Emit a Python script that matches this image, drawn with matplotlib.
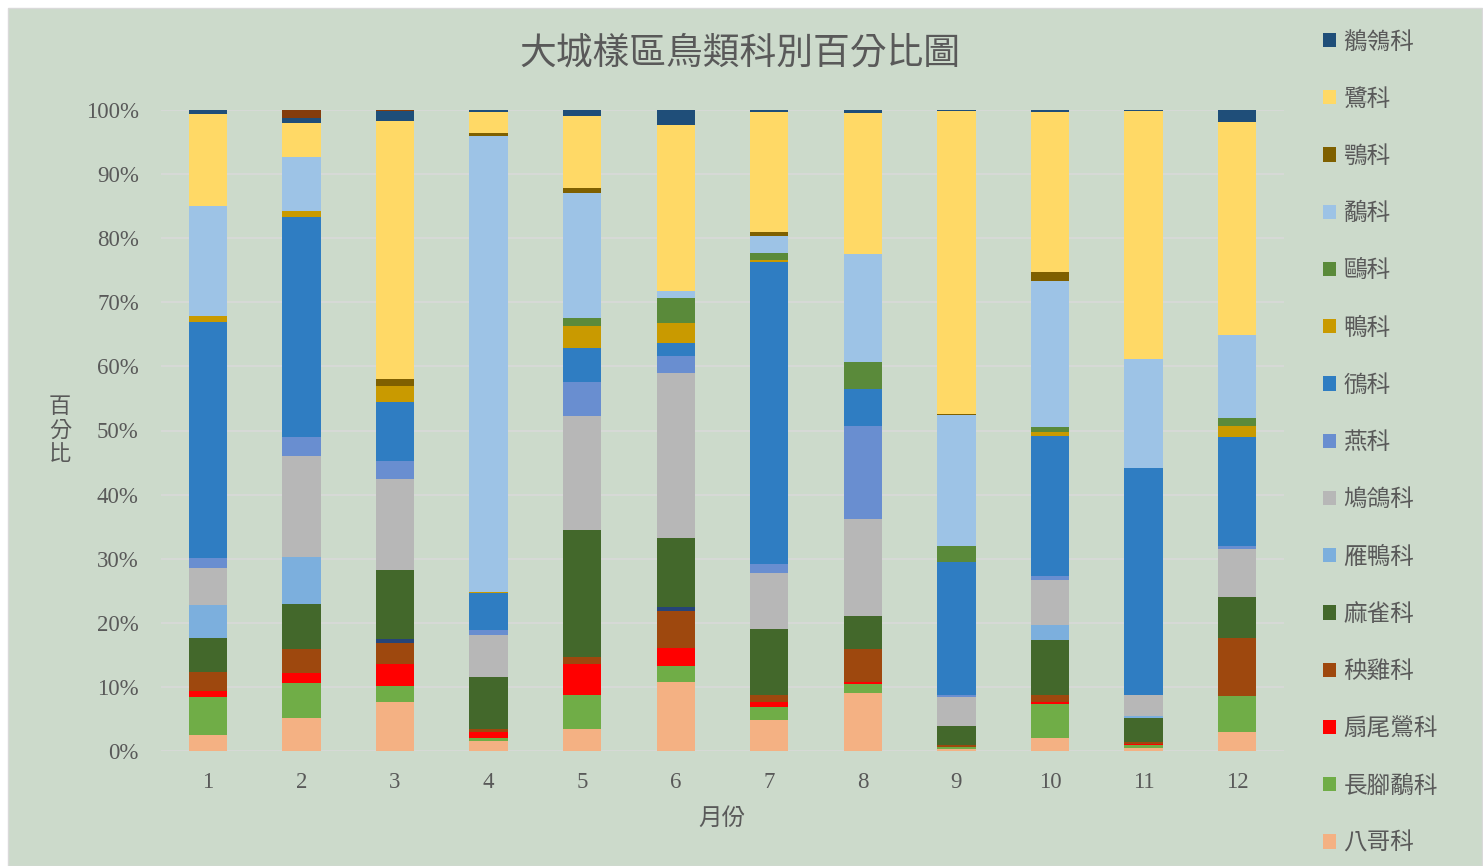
import matplotlib
matplotlib.use("Agg")
import matplotlib.pyplot as plt
import numpy as np
from matplotlib.patches import Rectangle, Patch

plt.rcParams['font.family'] = ['Noto Sans CJK TC', 'DejaVu Sans']

months = ['1', '2', '3', '4', '5', '6', '7', '8', '9', '10', '11', '12']

# percentage per family (bottom of stack first)
myna       = [2.5, 5.2, 7.7, 1.5, 3.4, 10.8, 4.9, 9.1, 0.3, 2.1, 0.4, 2.9]     # 八哥科
stilt      = [6.0, 5.4, 2.4, 0.5, 5.4, 2.5, 2.0, 1.4, 0.3, 5.2, 0.5, 5.7]      # 長腳鷸科
cisticola  = [0.9, 1.5, 3.4, 1.0, 4.7, 2.7, 0.8, 0.3, 0.1, 0.4, 0.2, 0.0]      # 扇尾鶯科
rail       = [2.9, 3.8, 3.3, 0.4, 1.2, 5.8, 1.0, 5.1, 0.2, 1.0, 0.3, 9.0]      # 秧雞科
other_a    = [0, 0, 0.7, 0, 0, 0.7, 0, 0, 0, 0, 0, 0]                          # (未列圖例)
sparrow    = [5.4, 7.1, 10.7, 8.1, 19.8, 10.8, 10.3, 5.2, 3.0, 8.6, 3.8, 6.5]  # 麻雀科
duck       = [5.1, 7.3, 0, 0, 0, 0, 0, 0, 0, 2.4, 0.3, 0]                      # 雁鴨科
pigeon     = [5.7, 15.7, 14.2, 6.6, 17.8, 25.7, 8.8, 15.1, 4.6, 7.0, 3.2, 7.4] # 鳩鴿科
swallow    = [1.6, 3.0, 2.9, 0.7, 5.3, 2.6, 1.4, 14.5, 0.3, 0.6, 0, 0.5]       # 燕科
plover     = [36.9, 34.3, 9.2, 5.8, 5.3, 2.1, 47.1, 5.7, 20.7, 21.8, 35.4, 17.0] # 鴴科
jacana     = [0.9, 0.9, 2.4, 0.2, 3.4, 3.1, 0.3, 0, 0, 0.7, 0.1, 1.7]          # 鴨科
gull       = [0, 0, 0, 0, 1.3, 3.8, 1.1, 4.3, 2.5, 0.7, 0, 1.3]                # 鷗科
sandpiper  = [17.1, 8.4, 0, 71.2, 19.4, 1.2, 2.6, 16.8, 20.4, 22.9, 17.0, 12.9] # 鷸科
osprey     = [0, 0, 1.1, 0.4, 0.9, 0, 0.7, 0, 0.1, 1.4, 0, 0]                  # 鶚科
heron      = [14.3, 5.3, 40.3, 3.3, 11.2, 25.9, 18.7, 22.0, 47.4, 24.9, 38.7, 33.3] # 鷺科
wagtail    = [0.7, 0.9, 1.5, 0.3, 0.9, 2.3, 0.3, 0.5, 0.1, 0.3, 0.1, 1.8]      # 鶺鴒科
other_b    = [0, 1.2, 0.2, 0, 0, 0, 0, 0, 0, 0, 0, 0]                          # (未列圖例)

series = [
    ('八哥科', myna, '#F4B183', True),
    ('長腳鷸科', stilt, '#70AD47', True),
    ('扇尾鶯科', cisticola, '#FF0000', True),
    ('秧雞科', rail, '#9E480E', True),
    ('其他A', other_a, '#264478', False),
    ('麻雀科', sparrow, '#43682B', True),
    ('雁鴨科', duck, '#7CAFDD', True),
    ('鳩鴿科', pigeon, '#B7B7B7', True),
    ('燕科', swallow, '#698ED0', True),
    ('鴴科', plover, '#2F7DC2', True),
    ('鴨科', jacana, '#C99A00', True),
    ('鷗科', gull, '#5A8A3A', True),
    ('鷸科', sandpiper, '#9DC3E6', True),
    ('鶚科', osprey, '#7F6000', True),
    ('鷺科', heron, '#FFD966', True),
    ('鶺鴒科', wagtail, '#1F4E79', True),
    ('其他B', other_b, '#843C0C', False),
]

W, H = 1483, 866
fig = plt.figure(figsize=(W / 100, H / 100), dpi=100)
fig.patch.set_facecolor('white')
bg = Rectangle((8 / W, 0), 1 - 8 / W - 1 / W, 1 - 8 / H, transform=fig.transFigure,
               facecolor='#CCDACB', edgecolor='#D9D9D9', linewidth=1, zorder=-10)
fig.patches.append(bg)

ax = fig.add_axes([161 / W, 1 - 751 / H, 1123 / W, 641 / H])
ax.set_zorder(5)
ax.set_facecolor('none')

data = np.array([s[1] for s in series], dtype=float)
totals = data.sum(axis=0)
frac = data / totals
x = np.arange(len(months))
bottom = np.zeros(len(months))
handles = []
for (name, _, color, show), vals in zip(series, frac):
    ax.bar(x, vals, width=0.41, bottom=bottom, color=color, linewidth=0, zorder=3)
    bottom += vals
    if show:
        handles.append(Patch(facecolor=color, label=name))

ax.set_xlim(-0.5, len(months) - 0.5)
ax.set_ylim(0, 1)
ax.set_yticks(np.arange(0, 1.01, 0.1))
ax.set_yticklabels([f'{int(round(v * 100))}%' for v in np.arange(0, 1.01, 0.1)],
                   fontfamily='Liberation Serif', fontsize=16.5, color='#595959')
ax.set_xticks(x)
ax.set_xticklabels(months, fontfamily='Liberation Serif', fontsize=16.5, color='#595959')
ax.tick_params(axis='y', length=0, pad=16)
ax.tick_params(axis='x', length=0, pad=15)
ax.grid(axis='y', color='#D9D9D9', linewidth=1.2, zorder=0)
ax.set_axisbelow(True)
for sp in ax.spines.values():
    sp.set_visible(False)

fig.text(740 / W, 1 - 53 / H, '大城樣區鳥類科別百分比圖', ha='center', va='center',
         fontsize=26.5, color='#595959')
fig.text(60 / W, 1 - 430 / H, '百\n分\n比', ha='center', va='center', fontsize=16,
         color='#595959', linespacing=1.05)
fig.text(722 / W, 1 - 818 / H, '月份', ha='center', va='center', fontsize=17, color='#595959')

leg = fig.legend(handles=handles[::-1], loc='upper left', bbox_to_anchor=(1314 / W, 1 - 21 / H),
                 frameon=False, fontsize=17, labelcolor='#595959', handlelength=0.55,
                 handleheight=0.55, handletextpad=0.3, labelspacing=1.45, borderaxespad=0)

fig.savefig('out.png', dpi=100)
